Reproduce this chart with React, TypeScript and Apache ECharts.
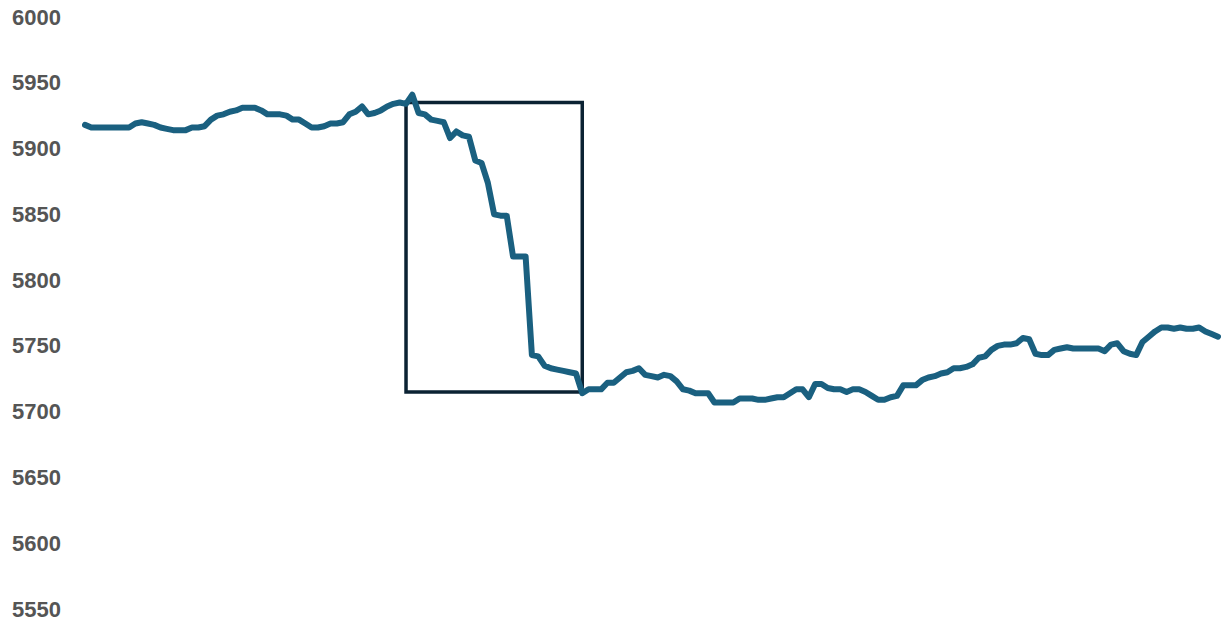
import React, { useEffect, useRef } from "react";
import * as echarts from "echarts";

const values: number[] = [
  5918, 5916, 5916, 5916, 5916, 5916, 5916, 5916, 5919, 5920,
  5919, 5918, 5916, 5915, 5914, 5914, 5914, 5916, 5916, 5917,
  5922, 5925, 5926, 5928, 5929, 5931, 5931, 5931, 5929, 5926,
  5926, 5926, 5925, 5922, 5922, 5919, 5916, 5916, 5917, 5919,
  5919, 5920, 5926, 5928, 5932, 5926, 5927, 5929, 5932, 5934,
  5935, 5934, 5941, 5927, 5926, 5922, 5921, 5920, 5908, 5913,
  5910, 5909, 5891, 5889, 5874, 5850, 5849, 5849, 5818, 5818,
  5818, 5743, 5742, 5735, 5733, 5732, 5731, 5730, 5729, 5714,
  5717, 5717, 5717, 5722, 5722, 5726, 5730, 5731, 5733, 5728,
  5727, 5726, 5728, 5727, 5723, 5717, 5716, 5714, 5714, 5714,
  5707, 5707, 5707, 5707, 5710, 5710, 5710, 5709, 5709, 5710,
  5711, 5711, 5714, 5717, 5717, 5711, 5721, 5721, 5718, 5717,
  5717, 5715, 5717, 5717, 5715, 5712, 5709, 5709, 5711, 5712,
  5720, 5720, 5720, 5724, 5726, 5727, 5729, 5730, 5733, 5733,
  5734, 5736, 5741, 5742, 5747, 5750, 5751, 5751, 5752, 5756,
  5755, 5744, 5743, 5743, 5747, 5748, 5749, 5748, 5748, 5748,
  5748, 5748, 5746, 5751, 5752, 5746, 5744, 5743, 5753, 5757,
  5761, 5764, 5764, 5763, 5764, 5763, 5763, 5764, 5761, 5759,
  5757,
];

const categories: string[] = values.map((_, i) => String(i));

const yMin = 5550;
const yMax = 6000;
const yStep = 50;

// Highlight box: category indices and value bounds
const boxStartIndex = 51;
const boxEndIndex = 79;
const boxTop = 5935;
const boxBottom = 5715;

export default function App() {
  const ref = useRef<HTMLDivElement>(null);

  useEffect(() => {
    if (!ref.current) return;
    const chart = echarts.init(ref.current, undefined, { renderer: "svg" });
    chart.setOption({
      animation: false,
      backgroundColor: "#ffffff",
      grid: { left: 85, right: 11, top: 17, bottom: 12, containLabel: false },
      xAxis: {
        type: "category",
        data: categories,
        boundaryGap: false,
        show: false,
      },
      yAxis: {
        type: "value",
        min: yMin,
        max: yMax,
        interval: yStep,
        axisLine: { show: false },
        axisTick: { show: false },
        splitLine: { show: false },
        axisLabel: {
          color: "#555555",
          fontSize: 22,
          fontWeight: "bold",
          fontFamily: "Liberation Sans, Arial, sans-serif",
          margin: 24,
          formatter: (v: number) => String(v),
        },
      },
      series: [
        {
          type: "line",
          data: values,
          showSymbol: false,
          symbol: "none",
          lineStyle: { color: "#1a6080", width: 6, join: "round", cap: "round" },
          markArea: {
            silent: true,
            itemStyle: {
              color: "rgba(0,0,0,0)",
              borderColor: "#0b2233",
              borderWidth: 3.5,
            },
            data: [
              [
                { coord: [String(boxStartIndex), boxTop] },
                { coord: [String(boxEndIndex), boxBottom] },
              ],
            ],
          },
        },
      ],
    });
    return () => chart.dispose();
  }, []);

  return (
    <div
      ref={ref}
      style={{ position: "fixed", left: 0, top: 0, width: 1229, height: 621 }}
    />
  );
}
